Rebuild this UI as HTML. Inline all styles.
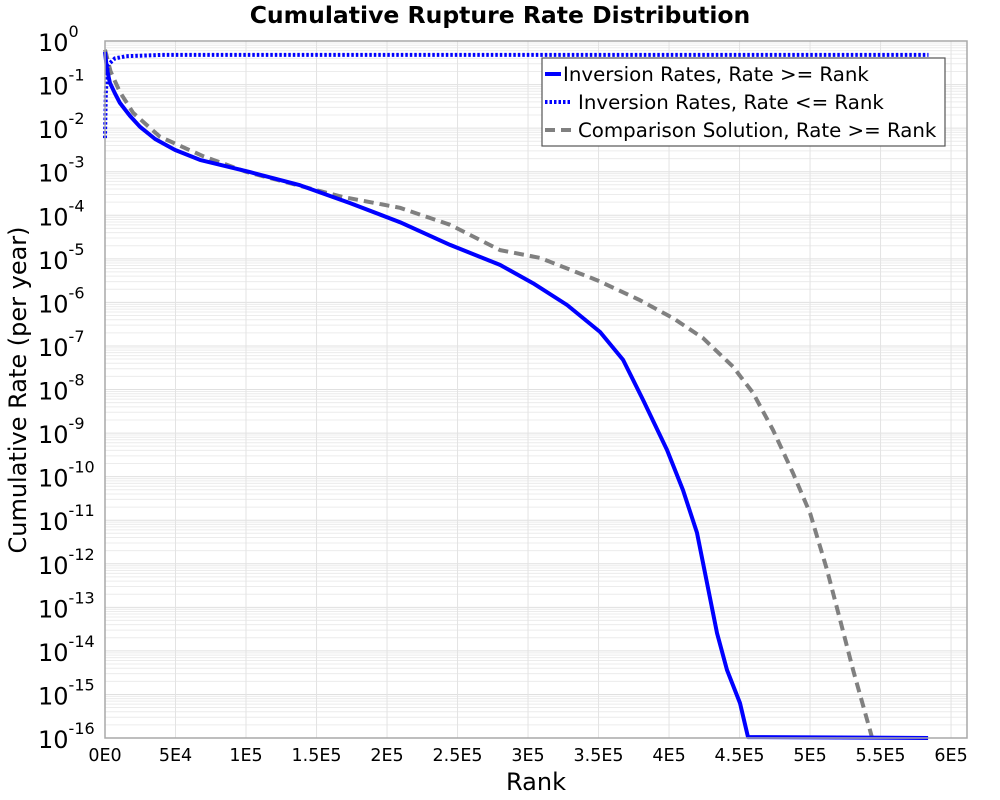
<!DOCTYPE html>
<html><head><meta charset="utf-8"><style>
html,body{margin:0;padding:0;background:#fff;}
svg{display:block;font-family:"DejaVu Sans","Liberation Sans",sans-serif;}
</style></head><body>
<svg id="chart" width="1000" height="800" xmlns="http://www.w3.org/2000/svg">
<text x="500" y="23" text-anchor="middle" font-size="23.5" font-weight="bold">Cumulative Rupture Rate Distribution</text>
<g id="grid"></g>
<g id="yticks"></g>
<g id="xticks"></g>
<g id="series"></g>
<rect x="105" y="41" width="862" height="697" fill="none" stroke="#a8a8a8" stroke-width="1.5"/>
<text x="536" y="790" text-anchor="middle" font-size="24">Rank</text>
<text transform="translate(26,390) rotate(-90)" text-anchor="middle" font-size="24">Cumulative Rate (per year)</text>
<g>
<rect x="542" y="58" width="403" height="88" fill="#fff" stroke="#555" stroke-width="1.2"/>
<line x1="545" y1="74" x2="561" y2="74" stroke="#0000ff" stroke-width="4"/>
<text x="563" y="81" font-size="19.8">Inversion Rates, Rate &gt;= Rank</text>
<line x1="545" y1="102" x2="571" y2="102" stroke="#0000ff" stroke-width="4" stroke-dasharray="2.5,2"/>
<text x="578" y="109" font-size="19.8">Inversion Rates, Rate &lt;= Rank</text>
<line x1="545" y1="130" x2="577" y2="130" stroke="#808080" stroke-width="4" stroke-dasharray="10,6"/>
<text x="578" y="137" font-size="19.8">Comparison Solution, Rate &gt;= Rank</text>
</g>
</svg>
<script>
// Data (rank, log10 cumulative rate)
const xTickValues = [0,50000,100000,150000,200000,250000,300000,350000,400000,450000,500000,550000,600000];
const xTickLabels = ["0E0","5E4","1E5","1.5E5","2E5","2.5E5","3E5","3.5E5","4E5","4.5E5","5E5","5.5E5","6E5"];
const yTickExps = [0,-1,-2,-3,-4,-5,-6,-7,-8,-9,-10,-11,-12,-13,-14,-15,-16];
const invGeRank = [0,1400,3500,7000,10600,17700,24800,35500,49600,67400,102800,138300,173800,209200,244700,280100,303500,327700,351100,367400,381600,398600,409900,419800,426900,434000,441100,450300,456000,583700];
const invGeLog = [-0.25,-0.65,-0.96,-1.2,-1.42,-1.72,-1.97,-2.25,-2.5,-2.73,-3.01,-3.31,-3.72,-4.16,-4.68,-5.14,-5.56,-6.06,-6.68,-7.32,-8.24,-9.39,-10.31,-11.29,-12.44,-13.59,-14.44,-15.2,-15.98,-16];
const invLeRank = [0,600,2000,7000,15000,40000,100000,584000];
const invLeLog = [-2.23,-1.2,-0.55,-0.4,-0.35,-0.32,-0.32,-0.32];
const compRank = [0,4000,10600,20000,39000,70000,100700,168800,209200,244700,280100,308500,348900,379400,402800,424100,445400,459600,473700,487900,500000,512000,521300,530500,542500,544000];
const compLog = [-0.2,-0.7,-1.17,-1.65,-2.2,-2.65,-3.01,-3.58,-3.83,-4.22,-4.8,-4.98,-5.49,-5.95,-6.36,-6.82,-7.48,-8.08,-8.93,-9.92,-10.84,-12.14,-13.29,-14.44,-15.82,-16];

const X0=105,X1=967,Y0=41,Y1=738,XMAX=611300,YMIN=-16,YMAX=0;
const sx=v=>X0+(v/XMAX)*(X1-X0);
const sy=l=>Y0+(YMAX-l)/(YMAX-YMIN)*(Y1-Y0);
const NS="http://www.w3.org/2000/svg";
function mk(tag,attrs,parent){const e=document.createElementNS(NS,tag);for(const k in attrs)e.setAttribute(k,attrs[k]);parent.appendChild(e);return e;}
const grid=document.getElementById('grid');
for(let e=0;e>YMIN;e--){for(let m=1;m<10;m++){const y=sy(e-1+Math.log10(m));
const ln=mk('line',{x1:X0,x2:X1,y1:y,y2:y,stroke:m===1?'#e0e0e0':'#ececec','stroke-width':1},grid);

}}
xTickValues.forEach((v,i)=>{const x=sx(v);
const ln=mk('line',{x1:x,x2:x,y1:Y0,y2:Y1,stroke:'#e3e3e3','stroke-width':1},grid);


const t=mk('text',{x:x,y:761,'text-anchor':'middle','font-size':17.5},document.getElementById('xticks'));
t.textContent=xTickLabels[i];

});
yTickExps.forEach(e=>{const y=sy(e);
const t=mk('text',{x:38,y:y+10,'font-size':24},document.getElementById('yticks'));


const a=document.createElementNS(NS,'tspan');a.textContent='10';t.appendChild(a);
const b=document.createElementNS(NS,'tspan');b.setAttribute('dy','-14');b.setAttribute('font-size','16');b.textContent=String(e);t.appendChild(b);});
function path(xs,ys,stroke,dash,name){let d='';xs.forEach((v,i)=>{d+=(i?'L':'M')+sx(v).toFixed(1)+','+sy(ys[i]).toFixed(1);});
const p=mk('path',{d:d,fill:'none',stroke:stroke,'stroke-width':4,'stroke-linejoin':'round'},document.getElementById('series'));
if(dash)p.setAttribute('stroke-dasharray',dash);

}
path(compRank,compLog,'#808080','10,6','comparison-line');
path(invLeRank,invLeLog,'#0000ff','2.5,2','inversion-le-line');
path(invGeRank,invGeLog,'#0000ff',null,'inversion-ge-line');
</script>
</body></html>
